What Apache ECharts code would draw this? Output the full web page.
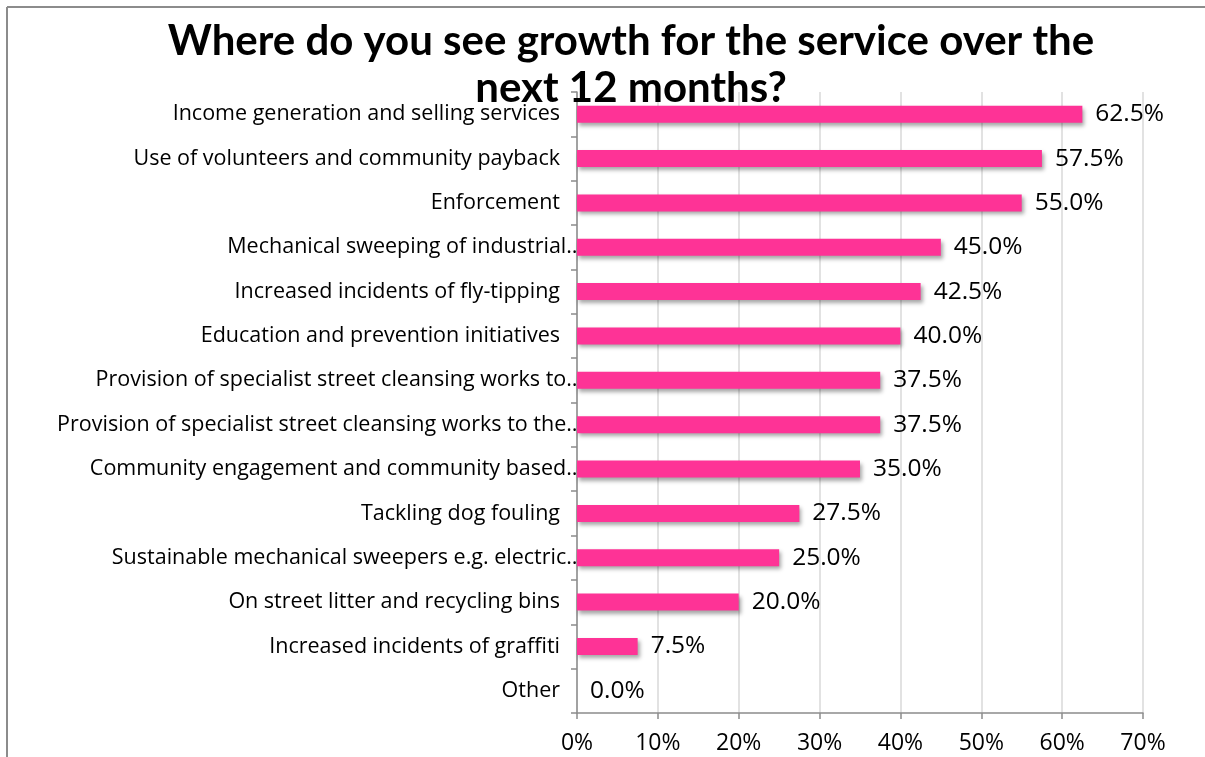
<!DOCTYPE html>
<html>
<head>
<meta charset="utf-8">
<script src="https://cdn.jsdelivr.net/npm/echarts@6/dist/echarts.min.js"></script>
<style>
  html, body { margin: 0; padding: 0; background: #fff; overflow: hidden; }
  #chart { width: 1205px; height: 757px; }
</style>
</head>
<body>
<div id="chart"></div>
<script>
// Survey answers, top to bottom
const categories = [
  'Income generation and selling services',
  'Use of volunteers and community payback',
  'Enforcement',
  'Mechanical sweeping of industrial…',
  'Increased incidents of fly-tipping',
  'Education and prevention initiatives',
  'Provision of specialist street cleansing works to…',
  'Provision of specialist street cleansing works to the…',
  'Community engagement and community based…',
  'Tackling dog fouling',
  'Sustainable mechanical sweepers e.g. electric…',
  'On street litter and recycling bins',
  'Increased incidents of graffiti',
  'Other'
];
// Share of respondents (%)
const shares = [62.5, 57.5, 55.0, 45.0, 42.5, 40.0, 37.5, 37.5, 35.0, 27.5, 25.0, 20.0, 7.5, 0.0];
const xTicks = [0, 10, 20, 30, 40, 50, 60, 70];

const TITLE_FONT = 'Lato, "Open Sans", sans-serif';
const FONT = '"Open Sans", "Liberation Sans", sans-serif';
const chart = echarts.init(document.getElementById('chart'), null, { renderer: 'canvas' });

chart.setOption({
  backgroundColor: '#ffffff',
  animation: false,
  title: {
    text: 'Where do you see growth for the service over the\nnext 12 months?',
    left: 626,
    top: 13,
    textAlign: 'center',
    textStyle: {
      fontFamily: TITLE_FONT,
      fontWeight: 'bold',
      fontSize: 42,
      lineHeight: 47,
      color: '#000'
    }
  },
  // frame along the top and left edges
  graphic: [
    { type: 'line', shape: { x1: 7, y1: 7, x2: 1205, y2: 7 }, style: { stroke: '#8c8c8c', lineWidth: 2 }, silent: true },
    { type: 'line', shape: { x1: 7, y1: 7, x2: 7, y2: 757 }, style: { stroke: '#8c8c8c', lineWidth: 2 }, silent: true }
  ],
  grid: { left: 577, right: 62, top: 92, bottom: 44 },
  xAxis: {
    type: 'value',
    min: xTicks[0],
    max: xTicks[xTicks.length - 1],
    interval: 10,
    axisLine: { show: true, lineStyle: { color: '#8c8c8c', width: 1.5 } },
    axisTick: { show: true, length: 6, lineStyle: { color: '#8c8c8c', width: 1.5 } },
    splitLine: { show: true, lineStyle: { color: '#d9d9d9', width: 1.5 } },
    axisLabel: {
      margin: 19,
      fontFamily: FONT,
      fontSize: 23,
      color: '#000',
      formatter: v => v + '%'
    }
  },
  yAxis: {
    type: 'category',
    data: categories,
    inverse: true,
    axisLine: { show: true, lineStyle: { color: '#8c8c8c', width: 1.5 } },
    axisTick: { show: true, length: 6, lineStyle: { color: '#8c8c8c', width: 1.5 } },
    splitLine: { show: false },
    axisLabel: {
      margin: -6,
      fontFamily: FONT,
      fontSize: 21.5,
      color: '#000',
      formatter: s => s.endsWith('…') ? '{t|' + s + '}' : '{n|' + s + '}',
      rich: {
        n: { fontFamily: FONT, fontSize: 21.5, color: '#000', padding: [0, 23, 0, 0] },
        t: { fontFamily: FONT, fontSize: 21.5, color: '#000' }
      }
    }
  },
  series: [{
    type: 'bar',
    data: shares,
    barWidth: 17,
    itemStyle: {
      color: '#fe3396',
      shadowColor: 'rgba(0,0,0,0.35)',
      shadowBlur: 4,
      shadowOffsetX: 2,
      shadowOffsetY: 3
    },
    label: {
      show: true,
      position: 'right',
      distance: 13,
      fontFamily: FONT,
      fontSize: 24.5,
      color: '#000',
      formatter: p => p.value.toFixed(1) + '%'
    }
  }]
});
</script>
</body>
</html>
